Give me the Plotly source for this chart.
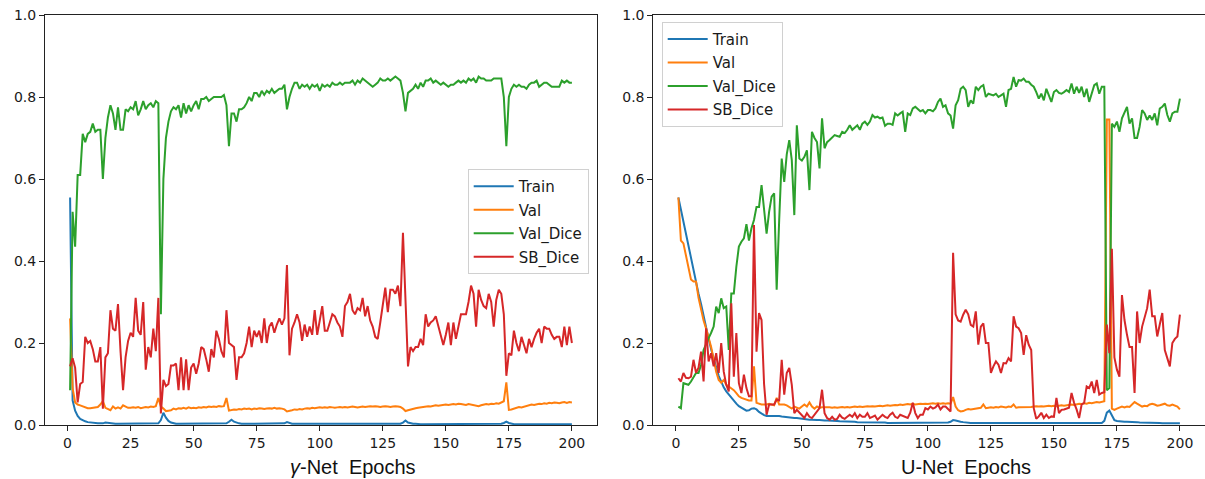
import plotly.graph_objects as go

EPOCHS = list(range(1, 201))
SERIES_NAMES = ["Train", "Val", "Val_Dice", "SB_Dice"]
X_TICKS = [0, 25, 50, 75, 100, 125, 150, 175, 200]
Y_TICKS = [0.0, 0.2, 0.4, 0.6, 0.8, 1.0]
X_LABELS = ["<i>γ</i>-Net\u00a0 Epochs", "U-Net\u00a0 Epochs"]

# ---------------- gamma-Net (left) ----------------
G_TRAIN = [
    0.555, 0.06, 0.035, 0.022, 0.015, 0.011, 0.009, 0.007, 0.006, 0.005,
    0.005, 0.004, 0.004, 0.004, 0.006, 0.005, 0.004, 0.004, 0.003, 0.003,
    0.003, 0.004, 0.003, 0.003, 0.003, 0.003, 0.003, 0.003, 0.003, 0.003,
    0.003, 0.003, 0.003, 0.003, 0.003, 0.004, 0.012, 0.030, 0.018, 0.010,
    0.006, 0.004, 0.003, 0.003, 0.003, 0.003, 0.003, 0.003, 0.003, 0.003,
    0.003, 0.003, 0.003, 0.003, 0.003, 0.003, 0.003, 0.003, 0.003, 0.003,
    0.003, 0.003, 0.004, 0.008, 0.013, 0.008, 0.005, 0.004, 0.003, 0.003,
    0.003, 0.003, 0.003, 0.003, 0.003, 0.003, 0.003, 0.003, 0.003, 0.003,
    0.003, 0.003, 0.003, 0.003, 0.003, 0.004, 0.007, 0.005, 0.003, 0.003,
    0.003, 0.002, 0.002, 0.003, 0.002, 0.002, 0.002, 0.003, 0.002, 0.002,
    0.002, 0.002, 0.002, 0.002, 0.002, 0.002, 0.002, 0.002, 0.002, 0.002,
    0.002, 0.002, 0.002, 0.002, 0.002, 0.002, 0.002, 0.002, 0.002, 0.002,
    0.002, 0.002, 0.002, 0.002, 0.002, 0.002, 0.002, 0.002, 0.002, 0.002,
    0.002, 0.003, 0.006, 0.011, 0.006, 0.004, 0.003, 0.003, 0.002, 0.002,
    0.002, 0.002, 0.002, 0.002, 0.002, 0.002, 0.002, 0.002, 0.002, 0.002,
    0.002, 0.002, 0.002, 0.002, 0.002, 0.002, 0.002, 0.002, 0.002, 0.002,
    0.002, 0.002, 0.002, 0.002, 0.002, 0.002, 0.002, 0.002, 0.002, 0.002,
    0.002, 0.003, 0.005, 0.008, 0.005, 0.003, 0.002, 0.002, 0.002, 0.002,
    0.002, 0.002, 0.002, 0.002, 0.002, 0.002, 0.002, 0.002, 0.002, 0.002,
    0.002, 0.002, 0.002, 0.002, 0.002, 0.002, 0.002, 0.002, 0.002, 0.002,
]
G_VAL = [
    0.26, 0.09, 0.055, 0.05, 0.048, 0.045, 0.042, 0.041, 0.041, 0.042,
    0.043, 0.044, 0.05, 0.058, 0.042, 0.038, 0.036, 0.045, 0.04, 0.043,
    0.04, 0.048, 0.045, 0.042, 0.042, 0.043, 0.042, 0.044, 0.041, 0.043,
    0.044, 0.043, 0.045, 0.044, 0.046, 0.066, 0.045, 0.04, 0.034, 0.035,
    0.036, 0.04, 0.038, 0.041, 0.04, 0.042, 0.04, 0.043, 0.041, 0.042,
    0.041, 0.043, 0.042, 0.044, 0.043, 0.045, 0.044, 0.045, 0.044, 0.046,
    0.045, 0.046, 0.066, 0.035, 0.036, 0.038, 0.037, 0.039, 0.038, 0.04,
    0.039, 0.04, 0.038, 0.04, 0.039, 0.041, 0.04, 0.039, 0.04, 0.041,
    0.04, 0.042, 0.04, 0.041, 0.04, 0.038, 0.033, 0.034, 0.036, 0.038,
    0.037, 0.039, 0.038, 0.04, 0.041, 0.04, 0.042, 0.041, 0.042, 0.043,
    0.042, 0.043, 0.042, 0.044, 0.043, 0.042, 0.043, 0.044, 0.043, 0.044,
    0.043, 0.044, 0.045, 0.044, 0.043, 0.044, 0.045, 0.044, 0.045, 0.046,
    0.045, 0.046, 0.045, 0.044, 0.045, 0.046, 0.045, 0.044, 0.045, 0.046,
    0.045, 0.044, 0.04, 0.034, 0.036, 0.038, 0.04, 0.041, 0.042, 0.043,
    0.044, 0.045, 0.046, 0.045, 0.047, 0.048, 0.047, 0.048, 0.049, 0.05,
    0.049, 0.05, 0.051, 0.05, 0.052, 0.051, 0.05, 0.049, 0.051, 0.05,
    0.049, 0.048, 0.046, 0.048, 0.05, 0.051, 0.05, 0.052, 0.051, 0.053,
    0.052, 0.055, 0.058, 0.104, 0.037, 0.038, 0.04, 0.042, 0.044, 0.043,
    0.045, 0.047, 0.048, 0.05, 0.049, 0.051, 0.052, 0.051, 0.053, 0.052,
    0.054, 0.053, 0.055, 0.054, 0.053, 0.055, 0.056, 0.054, 0.056, 0.055,
]
G_VALDICE = [
    0.085, 0.52, 0.435, 0.61, 0.61, 0.71, 0.69, 0.71, 0.715, 0.735,
    0.715, 0.72, 0.72, 0.60, 0.70, 0.75, 0.78, 0.76, 0.72, 0.775,
    0.72, 0.72, 0.77, 0.765, 0.775, 0.77, 0.79, 0.755, 0.77, 0.79,
    0.77, 0.78, 0.785, 0.775, 0.79, 0.785, 0.27, 0.60, 0.70, 0.74,
    0.765, 0.775, 0.77, 0.78, 0.75, 0.785, 0.76, 0.78, 0.765, 0.78,
    0.79, 0.77, 0.795, 0.795, 0.80, 0.79, 0.795, 0.80, 0.80, 0.80,
    0.80, 0.805, 0.78, 0.68, 0.76, 0.76, 0.74, 0.77, 0.77, 0.775,
    0.785, 0.80, 0.79, 0.81, 0.81, 0.80, 0.815, 0.805, 0.815, 0.81,
    0.82, 0.81, 0.815, 0.82, 0.82, 0.83, 0.77, 0.80, 0.82, 0.835,
    0.835, 0.82, 0.83, 0.825, 0.83, 0.82, 0.83, 0.825, 0.83, 0.815,
    0.83, 0.825, 0.83, 0.825, 0.835, 0.83, 0.83, 0.835, 0.83, 0.835,
    0.835, 0.835, 0.84, 0.83, 0.84, 0.835, 0.845, 0.84, 0.835, 0.83,
    0.825, 0.83, 0.835, 0.845, 0.84, 0.84, 0.845, 0.84, 0.845, 0.85,
    0.845, 0.84, 0.81, 0.765, 0.81, 0.815, 0.82, 0.83, 0.82, 0.835,
    0.825, 0.84, 0.84, 0.845, 0.835, 0.84, 0.835, 0.83, 0.835, 0.83,
    0.825, 0.83, 0.83, 0.835, 0.84, 0.835, 0.84, 0.835, 0.845, 0.84,
    0.845, 0.835, 0.85, 0.845, 0.845, 0.84, 0.84, 0.84, 0.845, 0.845,
    0.845, 0.845, 0.80, 0.68, 0.80, 0.82, 0.83, 0.825, 0.83, 0.825,
    0.825, 0.82, 0.83, 0.835, 0.835, 0.84, 0.825, 0.83, 0.835, 0.835,
    0.83, 0.825, 0.825, 0.825, 0.825, 0.84, 0.835, 0.84, 0.835, 0.835,
]
G_SBDICE = [
    0.143, 0.163, 0.14, 0.055, 0.10, 0.105, 0.215, 0.20, 0.205, 0.185,
    0.155, 0.155, 0.19, 0.04, 0.165, 0.175, 0.28, 0.235, 0.23, 0.295,
    0.18, 0.085, 0.165, 0.205, 0.225, 0.215, 0.31, 0.23, 0.22, 0.30,
    0.135, 0.19, 0.165, 0.235, 0.18, 0.31, 0.028, 0.11, 0.095, 0.10,
    0.145, 0.145, 0.15, 0.085, 0.165, 0.085, 0.16, 0.085, 0.14, 0.15,
    0.125, 0.15, 0.19, 0.185, 0.16, 0.13, 0.185, 0.165, 0.23, 0.21,
    0.18, 0.165, 0.28, 0.20, 0.195, 0.19, 0.11, 0.165, 0.165, 0.175,
    0.20, 0.24, 0.19, 0.23, 0.215, 0.23, 0.20, 0.26, 0.20, 0.24,
    0.25, 0.225, 0.245, 0.26, 0.245, 0.26, 0.39, 0.17, 0.235, 0.25,
    0.27, 0.25, 0.205, 0.245, 0.215, 0.24, 0.22, 0.28, 0.22, 0.26,
    0.29, 0.23, 0.23, 0.25, 0.27, 0.265, 0.25, 0.24, 0.215, 0.29,
    0.30, 0.32, 0.28, 0.27, 0.285, 0.28, 0.31, 0.265, 0.29, 0.255,
    0.24, 0.215, 0.21, 0.25, 0.29, 0.335, 0.275, 0.33, 0.33, 0.32,
    0.34, 0.29, 0.469, 0.29, 0.143, 0.19, 0.18, 0.19, 0.19, 0.21,
    0.195, 0.27, 0.24, 0.25, 0.255, 0.265, 0.24, 0.215, 0.195, 0.22,
    0.25, 0.195, 0.25, 0.21, 0.24, 0.27, 0.27, 0.27, 0.30, 0.34,
    0.32, 0.24, 0.33, 0.305, 0.29, 0.285, 0.32, 0.30, 0.24, 0.305,
    0.33, 0.32, 0.27, 0.12, 0.175, 0.17, 0.23, 0.20, 0.18, 0.215,
    0.195, 0.175, 0.21, 0.19, 0.21, 0.225, 0.235, 0.20, 0.24, 0.235,
    0.235, 0.22, 0.21, 0.215, 0.215, 0.19, 0.24, 0.195, 0.24, 0.20,
]

# ---------------- U-Net (right) ----------------
U_TRAIN = [
    0.555, 0.525, 0.495, 0.47, 0.44, 0.41, 0.38, 0.35, 0.32, 0.295,
    0.265, 0.24, 0.21, 0.185, 0.16, 0.14, 0.12, 0.105, 0.092, 0.082,
    0.074, 0.066, 0.058, 0.052, 0.046, 0.042, 0.038, 0.035, 0.036, 0.04,
    0.041, 0.038, 0.032, 0.027, 0.024, 0.022, 0.022, 0.023, 0.023, 0.022,
    0.022, 0.021, 0.02, 0.019, 0.018, 0.018, 0.017, 0.017, 0.016, 0.015,
    0.014, 0.014, 0.013, 0.013, 0.012, 0.012, 0.012, 0.011, 0.011, 0.011,
    0.011, 0.01, 0.01, 0.01, 0.009, 0.009, 0.009, 0.008, 0.008, 0.008,
    0.008, 0.007, 0.007, 0.007, 0.007, 0.006, 0.006, 0.006, 0.006, 0.006,
    0.006, 0.006, 0.006, 0.005, 0.005, 0.005, 0.005, 0.005, 0.005, 0.005,
    0.005, 0.005, 0.005, 0.005, 0.005, 0.005, 0.005, 0.005, 0.005, 0.005,
    0.005, 0.005, 0.005, 0.005, 0.005, 0.005, 0.005, 0.006, 0.008, 0.012,
    0.011, 0.009, 0.008, 0.007, 0.006, 0.006, 0.005, 0.005, 0.005, 0.005,
    0.005, 0.005, 0.005, 0.005, 0.005, 0.005, 0.005, 0.005, 0.005, 0.005,
    0.005, 0.005, 0.005, 0.005, 0.004, 0.004, 0.004, 0.004, 0.004, 0.004,
    0.004, 0.004, 0.004, 0.004, 0.004, 0.004, 0.004, 0.004, 0.004, 0.004,
    0.004, 0.004, 0.004, 0.004, 0.004, 0.004, 0.004, 0.004, 0.004, 0.004,
    0.004, 0.004, 0.004, 0.004, 0.004, 0.004, 0.004, 0.004, 0.005, 0.01,
    0.03, 0.035, 0.022, 0.012, 0.01, 0.009, 0.009, 0.008, 0.008, 0.008,
    0.007, 0.007, 0.007, 0.006, 0.006, 0.006, 0.005, 0.005, 0.005, 0.005,
    0.005, 0.005, 0.004, 0.004, 0.004, 0.004, 0.004, 0.004, 0.004, 0.004,
]
U_VAL = [
    0.555, 0.45, 0.443, 0.415, 0.39, 0.355, 0.35, 0.35, 0.31, 0.28,
    0.255, 0.235, 0.215, 0.19, 0.16, 0.13, 0.11, 0.103, 0.11, 0.098,
    0.094, 0.09, 0.085, 0.078, 0.07, 0.066, 0.064, 0.062, 0.06, 0.06,
    0.143, 0.054, 0.052, 0.05, 0.05, 0.05, 0.052, 0.05, 0.048, 0.066,
    0.05, 0.05, 0.05, 0.048, 0.045, 0.04, 0.045, 0.042, 0.04, 0.045,
    0.05, 0.045, 0.055, 0.045, 0.04, 0.045, 0.042, 0.043, 0.043, 0.044,
    0.043, 0.042, 0.043, 0.042, 0.043, 0.044, 0.043, 0.044, 0.043, 0.044,
    0.045, 0.044, 0.045, 0.044, 0.045, 0.046, 0.045, 0.046, 0.045, 0.046,
    0.047, 0.046, 0.047, 0.048, 0.047, 0.048, 0.049, 0.048, 0.05, 0.049,
    0.05, 0.051, 0.05, 0.052, 0.05, 0.051, 0.052, 0.051, 0.052, 0.051,
    0.052, 0.053, 0.052, 0.053, 0.052, 0.053, 0.052, 0.053, 0.052, 0.068,
    0.045, 0.036, 0.033, 0.034, 0.037, 0.039, 0.038, 0.039, 0.04, 0.04,
    0.042, 0.05, 0.041, 0.042, 0.043, 0.042, 0.044, 0.043, 0.045, 0.044,
    0.043, 0.045, 0.044, 0.05, 0.042, 0.043, 0.043, 0.044, 0.043, 0.044,
    0.044, 0.045, 0.046, 0.045, 0.046, 0.045, 0.046, 0.047, 0.046, 0.047,
    0.046, 0.047, 0.048, 0.047, 0.048, 0.049, 0.05, 0.049, 0.05, 0.052,
    0.051, 0.053, 0.052, 0.054, 0.053, 0.055, 0.056, 0.055, 0.057, 0.058,
    0.745, 0.745, 0.04, 0.037, 0.04, 0.042, 0.045, 0.043, 0.045, 0.044,
    0.05, 0.056, 0.052, 0.048, 0.045, 0.047, 0.046, 0.05, 0.052, 0.05,
    0.047, 0.048, 0.05, 0.052, 0.048, 0.047, 0.05, 0.048, 0.045, 0.038,
]
U_VALDICE = [
    0.045, 0.041, 0.102, 0.10, 0.098, 0.106, 0.115, 0.127, 0.127, 0.147,
    0.183, 0.20, 0.212, 0.225, 0.24, 0.289, 0.273, 0.309, 0.285, 0.289,
    0.183, 0.321, 0.321, 0.386, 0.435, 0.447, 0.455, 0.49, 0.45, 0.48,
    0.50, 0.532, 0.532, 0.585, 0.532, 0.467, 0.52, 0.557, 0.565, 0.33,
    0.50, 0.65, 0.593, 0.66, 0.695, 0.646, 0.512, 0.731, 0.65, 0.645,
    0.654, 0.67, 0.573, 0.715, 0.70, 0.69, 0.626, 0.748, 0.675, 0.69,
    0.695, 0.70, 0.707, 0.705, 0.703, 0.715, 0.712, 0.72, 0.731, 0.72,
    0.726, 0.731, 0.72, 0.735, 0.74, 0.732, 0.74, 0.756, 0.75, 0.752,
    0.748, 0.75, 0.73, 0.735, 0.735, 0.732, 0.76, 0.755, 0.76, 0.764,
    0.715, 0.76, 0.756, 0.772, 0.776, 0.77, 0.765, 0.768, 0.76, 0.768,
    0.768, 0.765, 0.772, 0.788, 0.796, 0.776, 0.78, 0.76, 0.755, 0.723,
    0.78, 0.792, 0.82, 0.825, 0.817, 0.776, 0.792, 0.784, 0.825, 0.817,
    0.825, 0.829, 0.80, 0.808, 0.806, 0.804, 0.808, 0.80, 0.804, 0.808,
    0.776, 0.817, 0.82, 0.849, 0.825, 0.841, 0.84, 0.845, 0.837, 0.837,
    0.83, 0.825, 0.812, 0.796, 0.808, 0.792, 0.82, 0.804, 0.788, 0.812,
    0.817, 0.81, 0.808, 0.812, 0.817, 0.812, 0.833, 0.808, 0.825, 0.81,
    0.825, 0.80, 0.82, 0.788, 0.808, 0.829, 0.833, 0.808, 0.825, 0.825,
    0.085, 0.09, 0.735, 0.727, 0.74, 0.715, 0.748, 0.76, 0.776, 0.735,
    0.748, 0.70, 0.70, 0.727, 0.768, 0.76, 0.744, 0.755, 0.744, 0.76,
    0.731, 0.772, 0.776, 0.784, 0.756, 0.74, 0.76, 0.764, 0.764, 0.796,
]
U_SBDICE = [
    0.114, 0.106, 0.127, 0.115, 0.114, 0.118, 0.159, 0.127, 0.14, 0.179,
    0.106, 0.236, 0.155, 0.175, 0.143, 0.175, 0.127, 0.20, 0.13, 0.098,
    0.082, 0.297, 0.118, 0.224, 0.102, 0.078, 0.123, 0.09, 0.07, 0.07,
    0.488, 0.179, 0.273, 0.256, 0.10, 0.025, 0.05, 0.05, 0.05, 0.062,
    0.06, 0.159, 0.074, 0.127, 0.139, 0.098, 0.029, 0.037, 0.03, 0.025,
    0.017, 0.029, 0.02, 0.017, 0.025, 0.035, 0.041, 0.086, 0.029, 0.017,
    0.013, 0.02, 0.013, 0.015, 0.025, 0.018, 0.015, 0.02, 0.025, 0.02,
    0.029, 0.017, 0.025, 0.02, 0.02, 0.029, 0.017, 0.02, 0.023, 0.013,
    0.02, 0.025, 0.02, 0.017, 0.025, 0.03, 0.02, 0.017, 0.025, 0.022,
    0.02, 0.017, 0.03, 0.054, 0.029, 0.017, 0.025, 0.025, 0.041, 0.038,
    0.045, 0.04, 0.043, 0.05, 0.038, 0.045, 0.045, 0.04, 0.033, 0.42,
    0.27, 0.255, 0.252, 0.269, 0.281, 0.27, 0.244, 0.24, 0.277, 0.196,
    0.24, 0.248, 0.20, 0.20, 0.127, 0.143, 0.155, 0.147, 0.127, 0.151,
    0.15, 0.163, 0.155, 0.265, 0.24, 0.236, 0.224, 0.171, 0.219, 0.196,
    0.183, 0.041, 0.015, 0.021, 0.03, 0.017, 0.025, 0.017, 0.021, 0.02,
    0.066, 0.029, 0.037, 0.038, 0.04, 0.042, 0.078, 0.054, 0.038, 0.017,
    0.05, 0.054, 0.094, 0.09, 0.106, 0.078, 0.11, 0.074, 0.078, 0.08,
    0.245, 0.175, 0.43, 0.165, 0.135, 0.118, 0.317, 0.256, 0.22, 0.19,
    0.19, 0.078, 0.277, 0.20, 0.24, 0.265, 0.285, 0.33, 0.265, 0.265,
    0.216, 0.245, 0.273, 0.183, 0.16, 0.143, 0.20, 0.21, 0.216, 0.269,
]

COLORS = ["#1f77b4", "#ff7f0e", "#2ca02c", "#d62728"]

for arr in (G_TRAIN, G_VAL, G_VALDICE, G_SBDICE, U_TRAIN, U_VAL, U_VALDICE, U_SBDICE):
    assert len(arr) == len(EPOCHS), len(arr)

fig = go.Figure()
panels = [
    ("x", "y", "legend", [G_TRAIN, G_VAL, G_VALDICE, G_SBDICE]),
    ("x2", "y2", "legend2", [U_TRAIN, U_VAL, U_VALDICE, U_SBDICE]),
]
for xa, ya, lg, series in panels:
    for name, vals, col in zip(SERIES_NAMES, series, COLORS):
        fig.add_trace(go.Scatter(
            x=EPOCHS, y=vals, mode="lines", name=name,
            line=dict(color=col, width=2),
            xaxis=xa, yaxis=ya, legend=lg, legendgroup=lg + name,
            showlegend=True,
        ))

W, H = 1205, 479
ML, MR, MT, MB = 45, 0, 15, 54
PW = W - ML - MR
PH = H - MT - MB

def px_x(p):
    return (p - ML) / PW

def px_y(p):
    return 1 - (p - MT) / PH

tickfont = dict(family="DejaVu Sans", size=14, color="#1a1a1a")
ax_common = dict(
    showline=True, mirror=True, linecolor="#222222", linewidth=1,
    ticks="outside", ticklen=5, tickwidth=1, tickcolor="#222222",
    showgrid=False, zeroline=False, tickfont=tickfont,
)
xcommon = dict(ax_common, range=[-8.95, 209.95], tickmode="array",
               tickvals=X_TICKS, ticktext=[str(t) for t in X_TICKS])
ycommon = dict(ax_common, range=[0, 1], tickmode="array",
               tickvals=Y_TICKS, ticktext=["%.1f" % t for t in Y_TICKS])

legend_common = dict(
    xanchor="left", yanchor="top", bgcolor="rgba(255,255,255,0.8)",
    bordercolor="#d0d0d0", borderwidth=1,
    font=dict(family="DejaVu Sans", size=15, color="#1a1a1a"),
    tracegroupgap=1, itemwidth=40,
)

fig.update_layout(
    width=W, height=H,
    margin=dict(l=ML, r=MR, t=MT, b=MB),
    paper_bgcolor="white", plot_bgcolor="white",
    xaxis=dict(xcommon, domain=[0, px_x(597)], anchor="y"),
    yaxis=dict(ycommon, anchor="x"),
    xaxis2=dict(xcommon, domain=[px_x(653.3), 1.0], anchor="y2"),
    yaxis2=dict(ycommon, anchor="x2", mirror=False),
    legend=dict(legend_common, x=px_x(467.7), y=px_y(169)),
    legend2=dict(legend_common, x=px_x(661.7), y=px_y(21.7)),
    annotations=[
        dict(text=X_LABELS[0], xref="paper", yref="paper",
             x=px_x(353), y=px_y(467), xanchor="center", yanchor="middle",
             showarrow=False,
             font=dict(family="Liberation Sans, Arial", size=20, color="#111111")),
        dict(text=X_LABELS[1], xref="paper", yref="paper",
             x=px_x(966), y=px_y(467), xanchor="center", yanchor="middle",
             showarrow=False,
             font=dict(family="Liberation Sans, Arial", size=20, color="#111111")),
    ],
)

fig.write_html("out.html", config={"displayModeBar": False},
               post_script="document.body.style.margin='0';")
